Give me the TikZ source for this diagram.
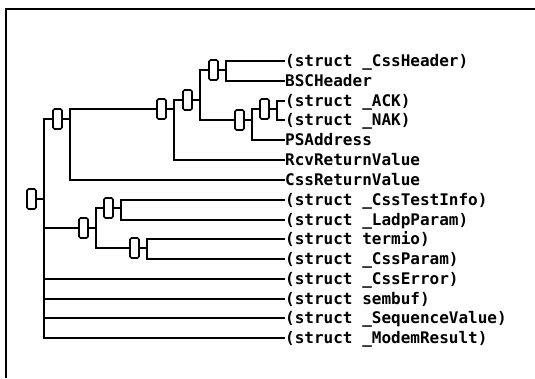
\documentclass[tikz,border=0pt]{standalone}
\usepackage{fontspec}
\usepackage{tikz}
\usetikzlibrary{positioning}
\newfontfamily\treefont{DejaVu Sans Mono}
\tikzset{
  typebox/.style={
    rectangle, rounded corners=1.5pt, draw=black, line width=1.6pt,
    fill=white, minimum width=9pt, minimum height=20pt, inner sep=0pt
  },
  leaf/.style={
    anchor=west, inner sep=0pt, text height=12pt, text depth=2pt,
    font=\treefont\bfseries\fontsize{16}{18}\selectfont
  },
  link/.style={line width=2pt, color=black},
}
\begin{document}
\begin{tikzpicture}[x=1pt, y=-1pt]
  \useasboundingbox (0,0) rectangle (535,378);
  \draw[line width=2.6pt] (6,378) -- (6,9) -- (535,9);

  % type names
  \node[leaf] (hdr) at (285,61) {(struct \_CssHeader)};
  \node[leaf] (bsc) at (285,81) {BSCHeader};
  \node[leaf] (ack) at (285,101) {(struct \_ACK)};
  \node[leaf] (nak) at (285,120) {(struct \_NAK)};
  \node[leaf] (psa) at (285,140) {PSAddress};
  \node[leaf] (rcv) at (285,160) {RcvReturnValue};
  \node[leaf] (cret) at (285,180) {CssReturnValue};
  \node[leaf] (tinfo) at (285,200) {(struct \_CssTestInfo)};
  \node[leaf] (ladp) at (285,220) {(struct \_LadpParam)};
  \node[leaf] (trm) at (285,239) {(struct termio)};
  \node[leaf] (cprm) at (285,259) {(struct \_CssParam)};
  \node[leaf] (cerr) at (285,279) {(struct \_CssError)};
  \node[leaf] (smb) at (285,299) {(struct sembuf)};
  \node[leaf] (seq) at (285,318) {(struct \_SequenceValue)};
  \node[leaf] (mdm) at (285,338) {(struct \_ModemResult)};

  % union boxes
  \node[typebox] (root) at (31.5,199) {};
  \node[typebox] (cssbox) at (57.5,119) {};
  \node[typebox] (rcvbox) at (161.5,109) {};
  \node[typebox] (msgbox) at (187.5,100) {};
  \node[typebox] (hdrbox) at (213.5,70) {};
  \node[typebox] (psbox) at (239.5,120) {};
  \node[typebox] (acknak) at (264.5,109) {};
  \node[typebox] (testbox) at (83.5,228) {};
  \node[typebox] (infobox) at (108.5,208) {};
  \node[typebox] (parambox) at (134.5,248) {};

  \draw[link] (root.east) -- ++(7.5,0) coordinate (j0)
    (j0) |- (cssbox.west) (j0) |- (testbox.west) (j0) |- (cerr.west)
    (j0) |- (smb.west) (j0) |- (seq.west) (j0) |- (mdm.west);
  \draw[link] (cssbox.east) -- ++(7.5,0) coordinate (j1)
    (j1) |- (rcvbox.west) (j1) |- (cret.west);
  \draw[link] (rcvbox.east) -- ++(7.5,0) coordinate (j2)
    (j2) |- (msgbox.west) (j2) |- (rcv.west);
  \draw[link] (msgbox.east) -- ++(7.5,0) coordinate (j3)
    (j3) |- (hdrbox.west) (j3) |- (psbox.west);
  \draw[link] (hdrbox.east) -- ++(7.5,0) coordinate (j4)
    (j4) |- (hdr.west) (j4) |- (bsc.west);
  \draw[link] (psbox.east) -- ++(7.5,0) coordinate (j5)
    (j5) |- (acknak.west) (j5) |- (psa.west);
  \draw[link] (acknak.east) -- ++(7.5,0) coordinate (j6)
    (j6) |- (ack.west) (j6) |- (nak.west);
  \draw[link] (testbox.east) -- ++(7.5,0) coordinate (j7)
    (j7) |- (infobox.west) (j7) |- (parambox.west);
  \draw[link] (infobox.east) -- ++(7.5,0) coordinate (j8)
    (j8) |- (tinfo.west) (j8) |- (ladp.west);
  \draw[link] (parambox.east) -- ++(7.5,0) coordinate (j9)
    (j9) |- (trm.west) (j9) |- (cprm.west);
\end{tikzpicture}
\end{document}
